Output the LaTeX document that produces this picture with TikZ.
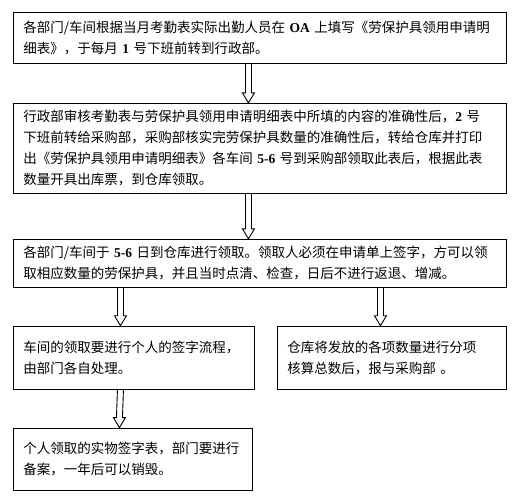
\documentclass[tikz,border=0pt]{standalone}
\usepackage{fontspec}
\newfontfamily\cjk{Noto Sans CJK SC}
\newfontfamily\latinbold{Liberation Serif}
\newcommand{\bnum}[1]{{\latinbold\bfseries #1}}
\usepackage{tikz}
\usetikzlibrary{positioning,calc}

\begin{document}
\begin{tikzpicture}[
      box/.style={draw, line width=0.9pt, align=left, inner xsep=10pt, inner ysep=4pt,
                  font=\cjk\fontsize{13.5}{21}\selectfont},
      hollow/.style={line width=0.9pt, to path={
          ($(\tikztostart)+(-3pt,0)$) -- ($(\tikztotarget)+(-3pt,10pt)$)
          -- ($(\tikztotarget)+(-6pt,10pt)$) -- (\tikztotarget)
          -- ($(\tikztotarget)+(6pt,10pt)$) -- ($(\tikztotarget)+(3pt,10pt)$)
          -- ($(\tikztostart)+(3pt,0)$)}}
    ]
    \useasboundingbox (0,0) rectangle (524pt,-498pt);

    \node[box, text width=473pt, minimum height=51pt, anchor=north west] (fill) at (13pt,-12pt)
      {各部门/车间根据当月考勤表实际出勤人员在 \bnum{OA} 上填写《劳保护具领用申请明\\
       细表》，于每月 \bnum{1} 号下班前转到行政部。};
    \node[box, text width=473pt, minimum height=90pt, below right=39pt and 0pt of fill.south west] (check)
      {行政部审核考勤表与劳保护具领用申请明细表中所填的内容的准确性后，\bnum{2} 号\\
       下班前转给采购部，采购部核实完劳保护具数量的准确性后，转给仓库并打印\\
       出《劳保护具领用申请明细表》各车间 \bnum{5-6} 号到采购部领取此表后，根据此表\\
       数量开具出库票，到仓库领取。};
    \node[box, text width=473pt, minimum height=48pt, below right=45pt and 0pt of check.south west] (collect)
      {各部门/车间于 \bnum{5-6} 日到仓库进行领取。领取人必须在申请单上签字，方可以领\\
       取相应数量的劳保护具，并且当时点清、检查，日后不进行返退、增减。};
    \node[box, text width=221pt, minimum height=63pt, below right=38pt and 0pt of collect.south west] (sign)
      {车间的领取要进行个人的签字流程，\\由部门各自处理。};
    \node[box, text width=209pt, minimum height=63pt, below left=38pt and 0pt of collect.south east] (tally)
      {仓库将发放的各项数量进行分项\\核算总数后，报与采购部 。};
    \node[box, text width=219pt, minimum height=62pt, below right=38pt and 0pt of sign.south west] (archive)
      {个人领取的实物签字表，部门要进行\\备案，一年后可以销毁。};

    \draw[hollow] ([xshift=-11.5pt]fill.south) to ([xshift=-11.5pt]fill.south |- check.north);
    \draw[hollow] ([xshift=-11.5pt]check.south) to ([xshift=-11.5pt]check.south |- collect.north);
    \draw[hollow] ([xshift=-13.5pt]sign.north |- collect.south) to ([xshift=-13.5pt]sign.north);
    \draw[hollow] ([xshift=-11.5pt]tally.north |- collect.south) to ([xshift=-11.5pt]tally.north);
    \draw[hollow] ([xshift=-13.5pt]sign.south) to ([xshift=-13.5pt]archive.north);
  \end{tikzpicture}
\end{document}
